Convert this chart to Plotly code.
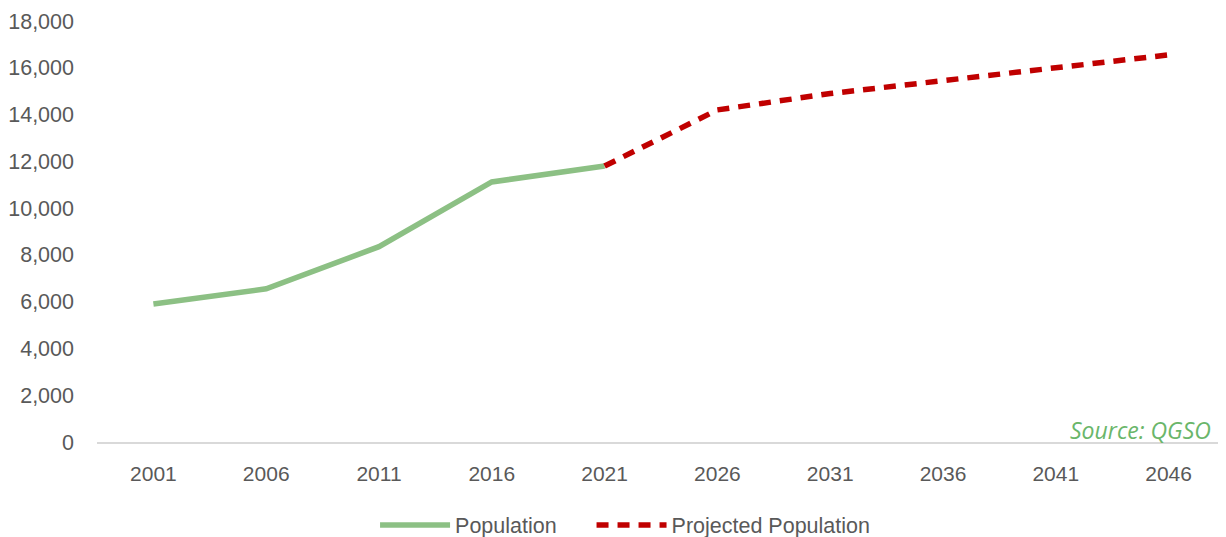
import plotly.graph_objects as go

years = ["2001", "2006", "2011", "2016", "2021", "2026", "2031", "2036", "2041", "2046"]
population = [5900, 6550, 8350, 11120, 11800, None, None, None, None, None]
projected = [None, None, None, None, 11800, 14200, 14900, 15450, 16050, 16550]
y_ticks = [0, 2000, 4000, 6000, 8000, 10000, 12000, 14000, 16000, 18000]
series_names = ["Population", "Projected Population"]

pad = "\u00a0" * 5
fig = go.Figure()
fig.add_trace(go.Scatter(
    x=years, y=population, name=series_names[0] + pad, mode="lines",
    line=dict(color="#8CC084", width=5.5),
))
fig.add_trace(go.Scatter(
    x=years, y=projected, name=series_names[1], mode="lines",
    line=dict(color="#C00000", width=5.5, dash="12px,9px"),
))

font_color = "#595959"
# page has an 8px body margin, so the figure is sized to fit the window
fig.update_layout(
    width=1218, height=529,
    margin=dict(l=89, r=1, t=13, b=95, autoexpand=False),
    paper_bgcolor="white", plot_bgcolor="white",
    font=dict(family="Liberation Sans, Arial, sans-serif", size=21, color=font_color),
    showlegend=True,
    legend=dict(orientation="h", x=0.2465, xanchor="left", y=-0.197, yanchor="middle",
                font=dict(size=21.5, color=font_color), itemwidth=70,
                tracegroupgap=0),
    xaxis=dict(type="category", range=[-0.5, 9.5], showgrid=False, zeroline=False,
               showline=True, linecolor="#D9D9D9", linewidth=1.5, ticks="",
               automargin=False,
               tickfont=dict(size=21, color=font_color), ticklabelstandoff=12),
    yaxis=dict(range=[0, 18000], tickvals=y_ticks, tickformat=",", showgrid=False,
               zeroline=False, showline=False, ticks="", automargin=False,
               tickfont=dict(size=21.5, color=font_color), ticklabelstandoff=22),
    annotations=[dict(
        text="<i>Source: QGSO</i>", xref="paper", yref="paper",
        x=0.989, y=0.0, xanchor="right", yanchor="bottom", showarrow=False, yshift=-6,
        font=dict(family="Open Sans, sans-serif", size=23, color="#6AB66A"),
    )],
)

fig.write_html("out.html")
